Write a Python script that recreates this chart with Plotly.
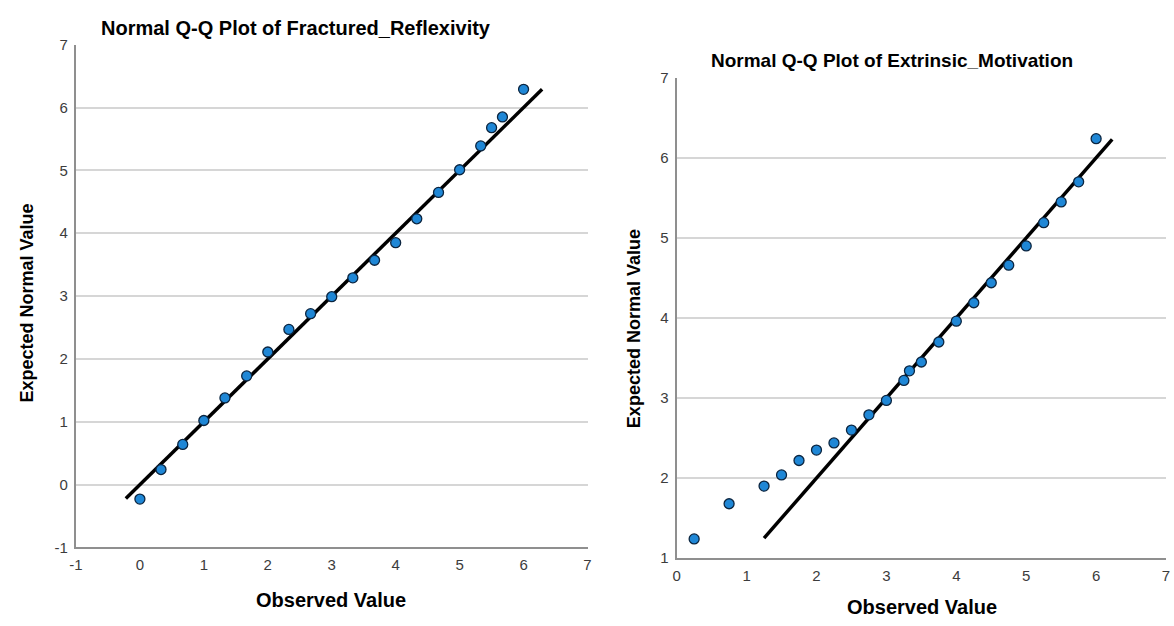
import plotly.graph_objects as go

# Fractured_Reflexivity: observed scores vs. expected normal quantiles
fr_observed = [0.00, 0.33, 0.67, 1.00, 1.33, 1.67, 2.00, 2.33, 2.67, 3.00,
               3.33, 3.67, 4.00, 4.33, 4.67, 5.00, 5.33, 5.50, 5.67, 6.00]
fr_expected = [-0.23, 0.24, 0.64, 1.02, 1.38, 1.73, 2.11, 2.47, 2.72, 2.99,
               3.29, 3.57, 3.85, 4.23, 4.65, 5.01, 5.39, 5.68, 5.85, 6.29]
fr_line = [-0.22, 6.29]

# Extrinsic_Motivation: observed scores vs. expected normal quantiles
em_observed = [0.25, 0.75, 1.25, 1.50, 1.75, 2.00, 2.25, 2.50, 2.75, 3.00, 3.25, 3.33,
               3.50, 3.75, 4.00, 4.25, 4.50, 4.75, 5.00, 5.25, 5.50, 5.75, 6.00]
em_expected = [1.24, 1.68, 1.90, 2.04, 2.22, 2.35, 2.44, 2.60, 2.79, 2.97, 3.22, 3.34,
               3.45, 3.70, 3.96, 4.19, 4.44, 4.66, 4.90, 5.19, 5.45, 5.70, 6.24]
em_line = [1.25, 6.23]

fr_ticks = [-1, 0, 1, 2, 3, 4, 5, 6, 7]
em_xticks = [0, 1, 2, 3, 4, 5, 6, 7]
em_yticks = [1, 2, 3, 4, 5, 6, 7]

titles = ["Normal Q-Q Plot of Fractured_Reflexivity", "Normal Q-Q Plot of Extrinsic_Motivation"]
x_title = "Observed Value"
y_title = "Expected Normal Value"

W, H = 1174, 626
FONT = "Arial, Liberation Sans, sans-serif"
MARKER = dict(size=10, color="#1f87d6", line=dict(color="#0b2540", width=1.3))
LINE = dict(color="black", width=3.5)

fig = go.Figure()

fig.add_trace(go.Scatter(x=fr_line, y=fr_line, mode="lines", line=LINE,
                         xaxis="x", yaxis="y", hoverinfo="skip"))
fig.add_trace(go.Scatter(x=fr_observed, y=fr_expected, mode="markers", marker=MARKER,
                         xaxis="x", yaxis="y"))
fig.add_trace(go.Scatter(x=em_line, y=em_line, mode="lines", line=LINE,
                         xaxis="x2", yaxis="y2", hoverinfo="skip"))
fig.add_trace(go.Scatter(x=em_observed, y=em_expected, mode="markers", marker=MARKER,
                         xaxis="x2", yaxis="y2"))


def px_x(p):
    return p / W


def px_y(p):
    return 1 - p / H


def labels(vals):
    # plain hyphen-minus for negative tick labels
    return [str(v) for v in vals]


def axis(grid, vals, rng, dom, anchor, standoff):
    return dict(
        domain=dom, range=rng, tickvals=vals, ticktext=labels(vals), anchor=anchor,
        showline=True, linecolor="#8f8f8f", linewidth=2,
        ticks="", showgrid=grid, gridcolor="#d6d6d6", gridwidth=1.5,
        zeroline=False, ticklabelstandoff=standoff,
        tickfont=dict(family=FONT, size=15, color="#3c3c3c"),
        fixedrange=True,
    )


fig.update_layout(
    width=W, height=H,
    margin=dict(l=0, r=0, t=0, b=0),
    paper_bgcolor="white", plot_bgcolor="white",
    showlegend=False,
    xaxis=axis(False, fr_ticks, [-1, 7], [px_x(69.6), px_x(586)], "y", 3),
    yaxis=axis(True, fr_ticks, [-1, 7], [px_y(553.5), px_y(36.7)], "x", 3),
    xaxis2=axis(False, em_xticks, [0, 7], [px_x(676), px_x(1170)], "y2", 3),
    yaxis2=axis(True, em_yticks, [1, 7], [px_y(564.5), px_y(70.7)], "x2", 3),
)

bold = dict(family=FONT, color="black", weight="bold")
annotations = [
    dict(text=titles[0], x=px_x(292), y=px_y(20), font=dict(size=20, **bold)),
    dict(text=titles[1], x=px_x(893), y=px_y(52.7), font=dict(size=19, **bold)),
    dict(text=x_title, x=px_x(327.4), y=px_y(607), font=dict(size=20, **bold)),
    dict(text=x_title, x=px_x(923.6), y=px_y(615), font=dict(size=20, **bold)),
    dict(text=y_title, x=px_x(20), y=px_y(302), textangle=-90, font=dict(size=18, **bold)),
    dict(text=y_title, x=px_x(633), y=px_y(329), textangle=-90, font=dict(size=18, **bold)),
]
for a in annotations:
    fig.add_annotation(xref="paper", yref="paper", showarrow=False,
                       xanchor="center", yanchor="middle", **a)

fig.write_html("out.html")
